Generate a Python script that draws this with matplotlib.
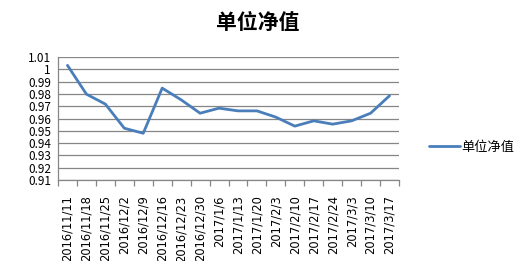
import matplotlib
matplotlib.use("Agg")
import matplotlib.pyplot as plt
from matplotlib.ticker import FuncFormatter, FixedLocator

plt.rcParams['font.family'] = ['Noto Sans CJK SC', 'DejaVu Sans']

dates = ["2016/11/11", "2016/11/18", "2016/11/25", "2016/12/2", "2016/12/9",
         "2016/12/16", "2016/12/23", "2016/12/30", "2017/1/6", "2017/1/13",
         "2017/1/20", "2017/2/3", "2017/2/10", "2017/2/17", "2017/2/24",
         "2017/3/3", "2017/3/10", "2017/3/17"]
nav = [1.0032, 0.9798, 0.9717, 0.9521, 0.9480, 0.9847, 0.9752, 0.9643, 0.9684,
       0.9662, 0.9662, 0.9611, 0.9538, 0.9581, 0.9554, 0.9581, 0.9643, 0.9785]
y_ticks = [0.91, 0.92, 0.93, 0.94, 0.95, 0.96, 0.97, 0.98, 0.99, 1.00, 1.01]

fig = plt.figure(figsize=(5.15, 2.61), dpi=100)
ax = fig.add_axes([58 / 515, 1 - 180 / 261, (399 - 58) / 515, (180 - 57) / 261])

x = list(range(len(dates)))
ax.plot(x, nav, color='#4A7EBB', linewidth=2.0, label='单位净值',
        solid_capstyle='round', solid_joinstyle='round', zorder=3)

ax.set_xlim(-0.5, len(dates) - 0.5)
ax.set_ylim(y_ticks[0], y_ticks[-1])
ax.set_yticks(y_ticks)
ax.yaxis.set_major_formatter(FuncFormatter(lambda v, p: f"{v:.2f}".rstrip('0').rstrip('.')))
ax.tick_params(axis='y', length=0, labelsize=8.5, pad=5, labelcolor='black')
ax.grid(axis='y', color='#868686', linewidth=0.9)
ax.set_axisbelow(True)

# category labels centred, tick marks between categories
ax.set_xticks(x)
ax.set_xticklabels(dates, rotation=90, fontsize=8.3, family=['DejaVu Sans'])
ax.tick_params(axis='x', which='major', length=0, pad=11)
ax.xaxis.set_minor_locator(FixedLocator([i - 0.5 for i in range(len(dates) + 1)]))
ax.tick_params(axis='x', which='minor', length=4, color='#868686', width=0.9)

for s in ['top', 'right']:
    ax.spines[s].set_visible(False)
ax.spines['left'].set_color('#868686')
ax.spines['bottom'].set_color('#868686')
ax.spines['left'].set_linewidth(0.9)
ax.spines['bottom'].set_linewidth(0.9)

fig.text(258 / 515, 1 - 22 / 261, '单位净值', ha='center', va='center',
         fontsize=15, fontweight='bold')

ax.legend(loc='center left', bbox_to_anchor=(424 / 515, 1 - 147 / 261),
          bbox_transform=fig.transFigure, frameon=False, fontsize=9.5,
          handlelength=2.3, handletextpad=0.15, borderaxespad=0)

fig.savefig('out.png', dpi=100, facecolor='white')
